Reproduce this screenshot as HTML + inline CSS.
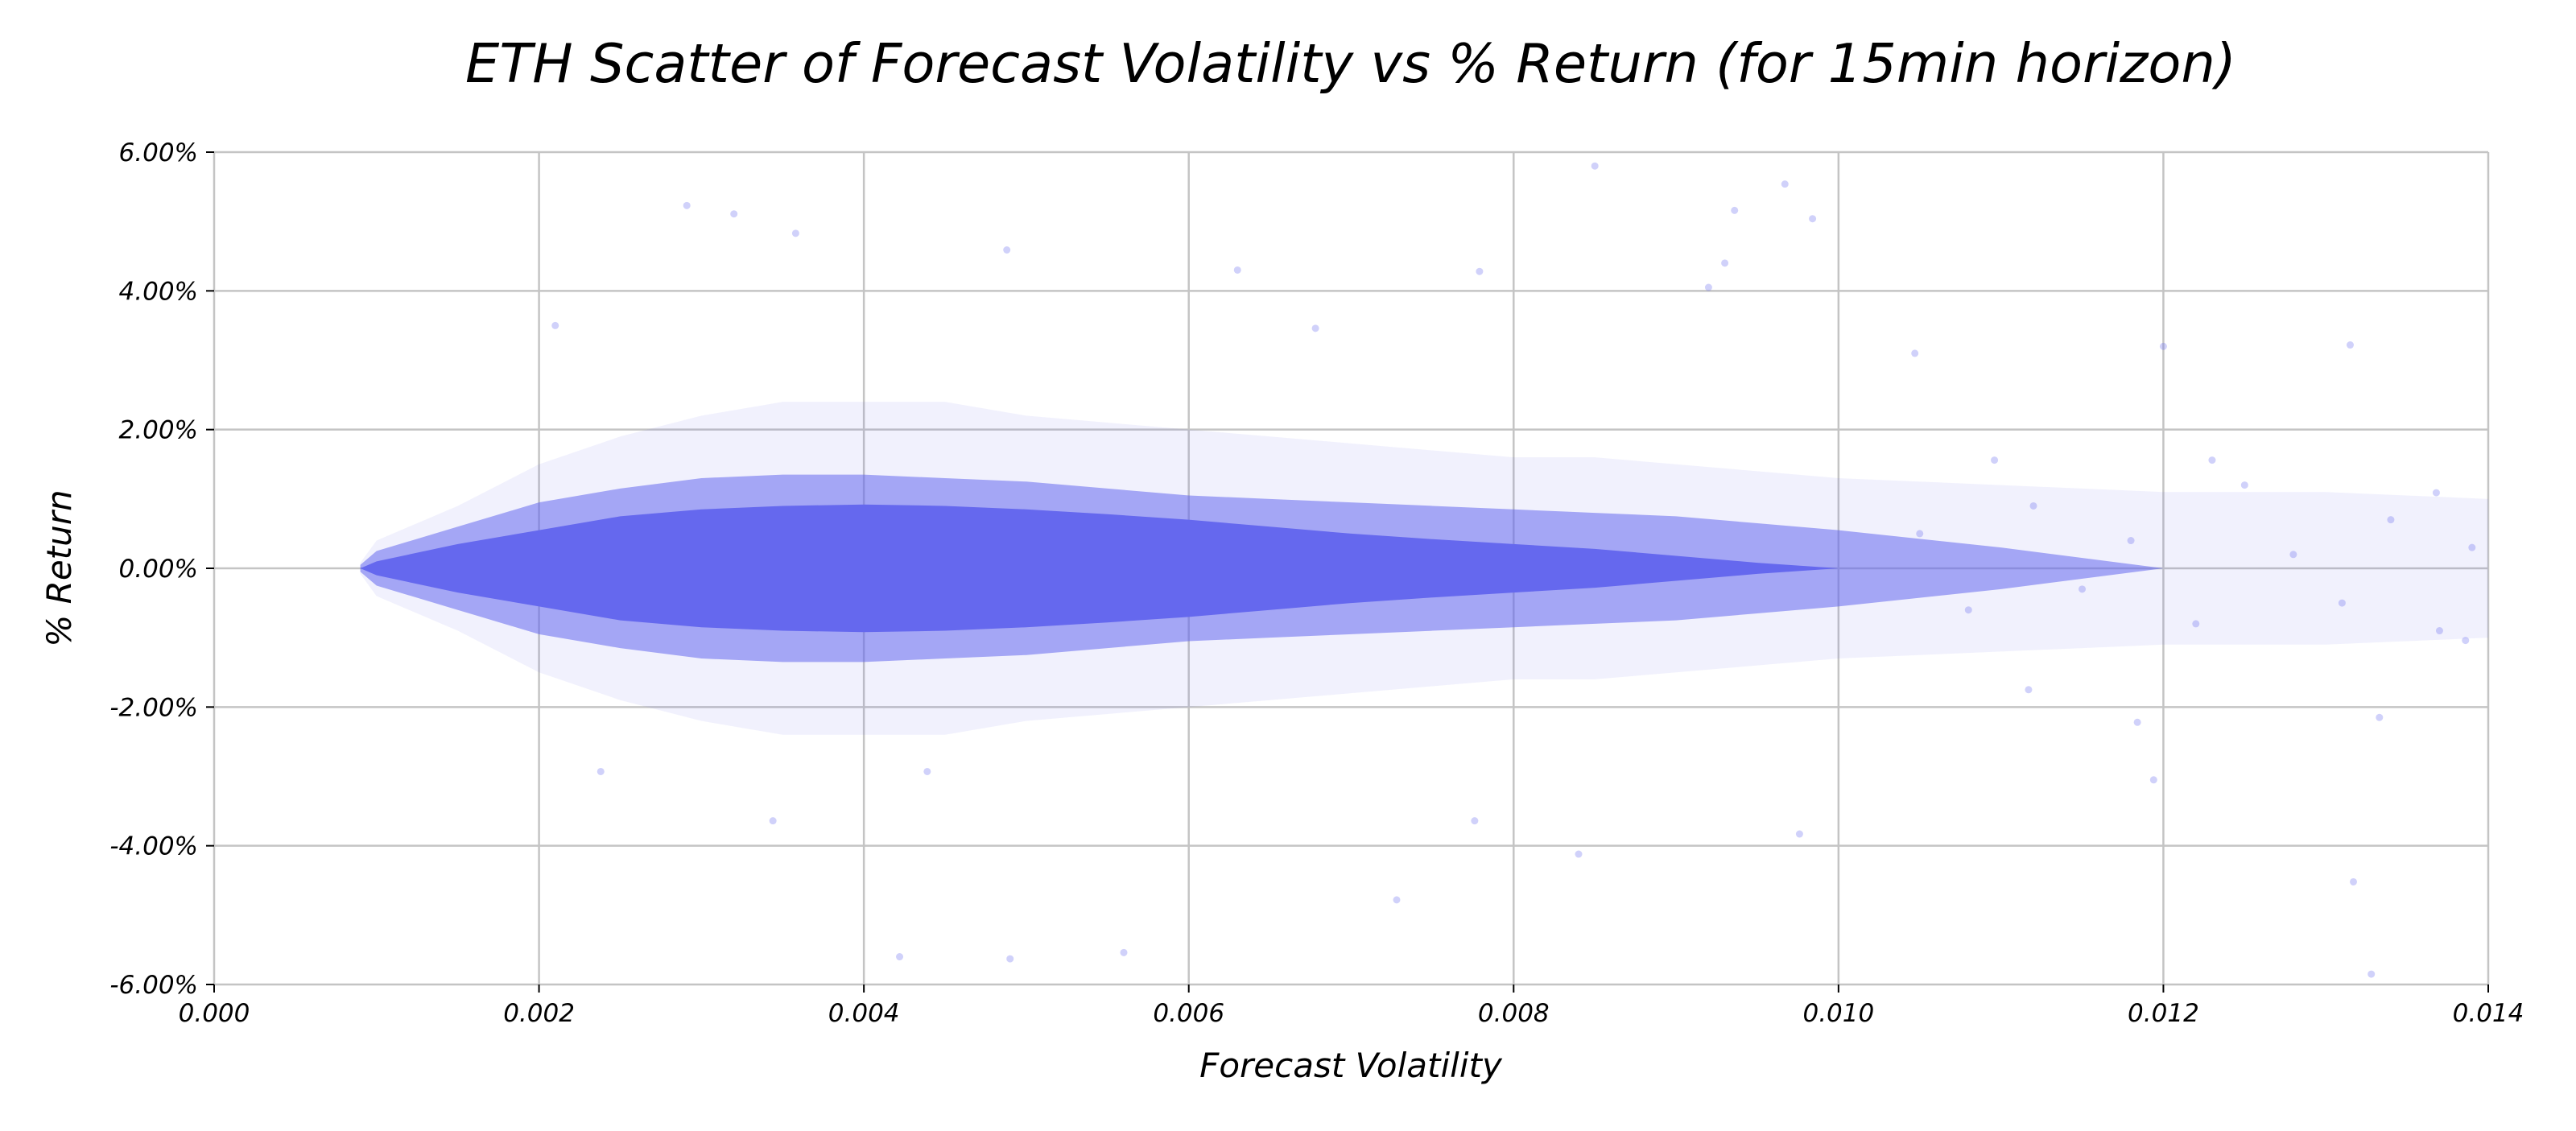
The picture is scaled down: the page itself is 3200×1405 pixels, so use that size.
<!DOCTYPE html>
<html><head><meta charset="utf-8"><style>
html,body{margin:0;padding:0;background:#fff;}
svg text{font-family:"DejaVu Sans","Liberation Sans",sans-serif;font-style:italic;fill:#000;}
</style></head><body>
<svg id="chart" width="3200" height="1400" viewBox="0 0 3200 1400" xmlns="http://www.w3.org/2000/svg">
<rect width="3200" height="1400" fill="#fff"/>
<text x="1678" y="102" font-size="67" text-anchor="middle">ETH Scatter of Forecast Volatility vs % Return (for 15min horizon)</text>
<text x="1678" y="1338" font-size="42" text-anchor="middle">Forecast Volatility</text>
<text x="0" y="0" font-size="42" text-anchor="middle" transform="translate(88,706) rotate(-90)">% Return</text>
<g id="grid"></g><g id="bands"></g><g id="pts"></g><g id="axes"></g>
</svg>
<script>
const xTicks=[0,0.002,0.004,0.006,0.008,0.010,0.012,0.014];
const xTickLabels=["0.000","0.002","0.004","0.006","0.008","0.010","0.012","0.014"];
const yTicks=[-6,-4,-2,0,2,4,6];
const yTickLabels=["-6.00%","-4.00%","-2.00%","0.00%","2.00%","4.00%","6.00%"];
const volBins=[0.0009,0.001,0.0015,0.002,0.0025,0.003,0.0035,0.004,0.0045,0.005,0.0055,0.006,0.0065,0.007,0.0075,0.008,0.0085,0.009,0.0095,0.010,0.011,0.012,0.013,0.014];
const coreHalf=[0,0.1,0.35,0.55,0.75,0.85,0.9,0.92,0.9,0.85,0.78,0.7,0.6,0.5,0.42,0.35,0.28,0.18,0.08,0,0,0,0,0];
const midHalf=[0.05,0.25,0.6,0.95,1.15,1.3,1.35,1.35,1.3,1.25,1.15,1.05,1.0,0.95,0.9,0.85,0.8,0.75,0.65,0.55,0.3,0,0,0];
const haloHalf=[0.08,0.4,0.9,1.5,1.9,2.2,2.4,2.4,2.4,2.2,2.1,2.0,1.9,1.8,1.7,1.6,1.6,1.5,1.4,1.3,1.2,1.1,1.1,1.0];
const outVol=[0.00291,0.0032,0.00358,0.00488,0.0085,0.00936,0.00967,0.00984,0.0092,0.0063,0.00422,0.0049,0.0056,0.01328,0.01317,0.012,0.01315,0.0123,0.01368,0.01386,0.01333,0.01184,0.01194,0.01117,0.01096,0.00776,0.00728,0.0084,0.00344,0.00976,0.00238,0.0021,0.00439,0.00678,0.00779,0.01047,0.0093,0.0105,0.0108,0.0112,0.0115,0.0118,0.0122,0.0125,0.0128,0.0131,0.0134,0.0137,0.0139];
const outRet=[5.23,5.11,4.83,4.59,5.8,5.16,5.54,5.04,4.05,4.3,-5.6,-5.63,-5.54,-5.85,-4.52,3.2,3.22,1.56,1.09,-1.04,-2.15,-2.22,-3.05,-1.75,1.56,-3.64,-4.78,-4.12,-3.64,-3.83,-2.93,3.5,-2.93,3.46,4.28,3.1,4.4,0.5,-0.6,0.9,-0.3,0.4,-0.8,1.2,0.2,-0.5,0.7,-0.9,0.3];
const L=266,R=3091,T=189,B=1223;
const sx=v=>L+(v-0)/(0.014-0)*(R-L);
const sy=r=>T+(6-r)/12*(B-T);
const NS="http://www.w3.org/2000/svg";
function mk(tag,parent,attrs){const e=document.createElementNS(NS,tag);for(const k in attrs)e.setAttribute(k,attrs[k]);document.getElementById(parent).appendChild(e);return e;}
xTicks.forEach((v,i)=>{
 const g=mk('line','grid',{x1:sx(v),x2:sx(v),y1:T,y2:B,stroke:'#c4c4c4','stroke-width':2.5});
 
 
 const t=mk('line','axes',{x1:sx(v),x2:sx(v),y1:B,y2:B+10,stroke:'#000','stroke-width':2});
 
 
 const l=mk('text','axes',{x:sx(v),y:B+46,'font-size':31,'text-anchor':'middle'});l.textContent=xTickLabels[i];
 
 
});
yTicks.forEach((v,i)=>{
 const g=mk('line','grid',{x1:L,x2:R,y1:sy(v),y2:sy(v),stroke:'#c4c4c4','stroke-width':2.5});
 
 
 const t=mk('line','axes',{x1:L-10,x2:L,y1:sy(v),y2:sy(v),stroke:'#000','stroke-width':2});
 
 
 const l=mk('text','axes',{x:L-20,y:sy(v)+11,'font-size':31,'text-anchor':'end'});l.textContent=yTickLabels[i];
 
 
});
function band(arr,op,name){
 let top=[],bot=[];
 volBins.forEach((v,i)=>{top.push(sx(v)+','+sy(arr[i]));bot.unshift(sx(v)+','+sy(-arr[i]));});
 const p=mk('polygon','bands',{points:top.concat(bot).join(' '),fill:'#6568ee','fill-opacity':op});
 
 
}
band(haloHalf,0.09,'scatter-halo-band');
band(midHalf,0.55,'scatter-mid-band');
band(coreHalf,1,'scatter-core-band');
outVol.forEach((v,i)=>{
 const c=mk('circle','pts',{cx:sx(v),cy:sy(outRet[i]),r:4.5,fill:'#6568ee','fill-opacity':0.3});
 
 
});
</script>
</body></html>
